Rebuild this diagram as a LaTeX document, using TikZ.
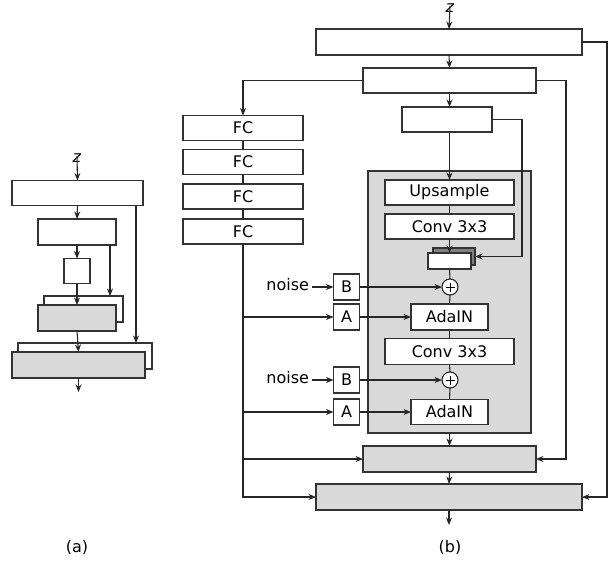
\documentclass[tikz,border=0pt]{standalone}
\usepackage{fontspec}
\setmainfont{DejaVu Sans}
\usetikzlibrary{arrows.meta,calc}
\begin{document}
\begin{tikzpicture}[x=1pt,y=-1pt,
  font=\fontsize{16}{19}\selectfont,
  every node/.style={inner sep=0pt,outer sep=0pt},
  blk/.style={draw=black!80,line width=1.1pt,fill=white,minimum width=#1},
  blk/.default=20pt,
  gblk/.style={blk=#1,fill=black!15},
  ln/.style={line width=1.1pt,draw=black!85},
  arr/.style={ln,-{Stealth[length=7.5pt,width=6pt]}},
  plus/.style={draw=black!85,line width=1.1pt,fill=white,circle,minimum size=16pt}
]
\useasboundingbox (0,0) rectangle (609,560);

% ---------------- (a) ----------------
\node (za) at (77,158) {\textit{z}};
\node[blk=131pt,minimum height=25pt] (a1) at (77.5,193) {};
\node[blk=78pt,minimum height=26pt] (a2) at (77,232) {};
\node[blk=26pt,minimum height=25pt] (a3) at (77,271) {};
\node[blk=79pt,minimum height=26pt] (a4b) at (83.5,309) {};
\node[gblk=78pt,minimum height=26pt] (a4f) at (77,318) {};
\node[blk=134pt,minimum height=26pt] (a5b) at (85,356) {};
\node[gblk=133pt,minimum height=26pt] (a5f) at (78.5,365) {};
\coordinate (aout) at (78.5,392);
\draw[arr] ([yshift=6pt]za.south) -- (a1.north);
\draw[arr] (a1.south) -- (a2.north);
\draw[arr] (a2.south) -- (a3.north);
\draw[arr] (a3.south) -- (a4f.north);
\draw[arr] (a4f.south) -- (a5f.north);
\draw[arr] (a5f.south) -- (aout);
\draw[arr] ([xshift=-7pt]a1.south east) -- ([xshift=-7pt]a1.south east |- a5b.north);
\draw[arr] ([xshift=-6pt]a2.south east) -- ([xshift=-6pt]a2.south east |- a4b.north);
\node (la) at (77,547) {(a)};

% ---------------- (b) ----------------
\node (zb) at (450,8) {\textit{z}};
\node[blk=266pt,minimum height=26pt] (b1) at (449,42) {};
\node[blk=173pt,minimum height=25pt] (b2) at (449.5,80.5) {};
\node[blk=90pt,minimum height=25pt] (b3) at (447,119.5) {};
\node[gblk=163pt,minimum height=262pt] (cont) at (449.5,302) {};
\node[blk=129pt,minimum height=25pt] (ups) at (449.5,192.5) {Upsample};
\node[blk=129pt,minimum height=25pt] (conv1) at (449.5,226.5) {Conv 3x3};
\node[blk=42pt,minimum height=17pt,fill=black!50] (sb) at (454,256.5) {};
\node[blk=43pt,minimum height=16pt] (sf) at (449.5,261) {};
\node[plus] (p1) at (450,287) {};
\draw[line width=1pt] ($(p1)+(-4.5,0)$) -- ($(p1)+(4.5,0)$) ($(p1)+(0,-4.5)$) -- ($(p1)+(0,4.5)$);
\node[blk=77pt,minimum height=26pt] (ada1) at (449.5,317) {AdaIN};
\node[blk=129pt,minimum height=26pt] (conv2) at (449.5,351.5) {Conv 3x3};
\node[plus] (p2) at (450,380) {};
\draw[line width=1pt] ($(p2)+(-4.5,0)$) -- ($(p2)+(4.5,0)$) ($(p2)+(0,-4.5)$) -- ($(p2)+(0,4.5)$);
\node[blk=77pt,minimum height=25pt] (ada2) at (449.5,412) {AdaIN};
\node[gblk=173pt,minimum height=26pt] (b4) at (449.5,459) {};
\node[gblk=266pt,minimum height=26pt] (b5) at (449,497) {};
\coordinate (bout) at (449,525);

\node[blk=120pt,minimum height=25pt] (fc1) at (243,128) {FC};
\node[blk=120pt,minimum height=25pt] (fc2) at (243,162) {FC};
\node[blk=120pt,minimum height=25pt] (fc3) at (243,196.5) {FC};
\node[blk=120pt,minimum height=25pt] (fc4) at (243,231.5) {FC};

\node[blk=26pt,minimum height=26pt] (B1) at (346.5,287) {B};
\node[blk=26pt,minimum height=26pt] (A1) at (346.5,317) {A};
\node[blk=26pt,minimum height=26pt] (B2) at (346.5,380) {B};
\node[blk=26pt,minimum height=26pt] (A2) at (346.5,412) {A};
\node[anchor=east] (n1) at (309,285) {noise};
\node[anchor=east] (n2) at (309,378) {noise};

\draw[arr] ([yshift=6pt]zb.south) -- (b1.north);
\draw[arr] (b1.south) -- (b2.north);
\draw[arr] (b2.south) -- (b2.south |- b3.north);
\draw[arr] (b3.south -| ups.north) -- (ups.north);
\draw[ln] (ups.south) -- (conv1.north);
\draw[arr] (conv1.south) -- (sf.north);
\draw[arr] (b3.east) -- ++(30,0) |- (sb.east);
\draw[ln] (sf.south) -- (p1.north);
\draw[ln] (p1.south) -- (ada1.north);
\draw[ln] (ada1.south) -- (conv2.north);
\draw[ln] (conv2.south) -- (p2.north);
\draw[ln] (p2.south) -- (ada2.north);
\draw[arr] (cont.south) -- (b4.north);
\draw[arr] (b4.south) -- (b5.north);
\draw[arr] (b5.south) -- (bout);

\draw[arr] (B1.east) -- (p1.west);
\draw[arr] (A1.east) -- (ada1.west);
\draw[arr] (B2.east) -- (p2.west);
\draw[arr] (A2.east) -- (ada2.west);
\draw[arr] ([xshift=3pt]n1.east |- B1.west) -- (B1.west);
\draw[arr] ([xshift=3pt]n2.east |- B2.west) -- (B2.west);

\draw[arr] (b2.west) -| (fc1.north);
\draw[ln] (fc1.south) -- (fc2.north) (fc2.south) -- (fc3.north) (fc3.south) -- (fc4.north);
\draw[arr] (fc4.south) |- (b5.west);
\draw[arr] (fc4.south |- A1.west) -- (A1.west);
\draw[arr] (fc4.south |- A2.west) -- (A2.west);
\draw[arr] (fc4.south |- b4.west) -- (b4.west);
\draw[arr] (b2.east) -- ++(30,0) |- (b4.east);
\draw[arr] (b1.east) -- ++(25,0) |- (b5.east);
\node (lb) at (450,547) {(b)};
\end{tikzpicture}
\end{document}
